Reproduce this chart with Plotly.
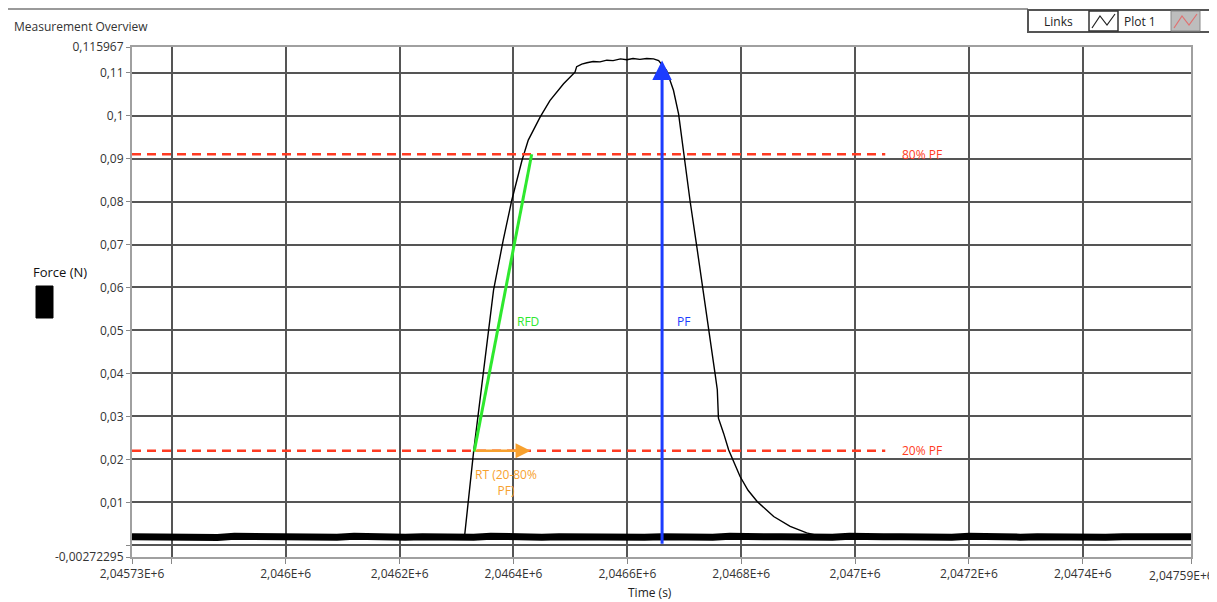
import plotly.graph_objects as go

# ---------------- data ----------------
# main force trace (time in s, force in N)
force_t = [2046300, 2046314, 2046330, 2046347, 2046365, 2046382, 2046397, 2046415,
           2046426, 2046447, 2046464, 2046488, 2046508, 2046511, 2046520, 2046529,
           2046540, 2046552, 2046564, 2046575, 2046588, 2046599, 2046610, 2046622,
           2046634, 2046646, 2046655, 2046669, 2046681, 2046690, 2046699, 2046710,
           2046722, 2046734, 2046745, 2046754, 2046758, 2046760, 2046769, 2046778,
           2046798, 2046812, 2046828, 2046857, 2046886, 2046915, 2046939]
force_v = [0.0019, 0.0020, 0.0218, 0.0400, 0.0594, 0.0710, 0.0803, 0.0896,
           0.0943, 0.0997, 0.1035, 0.1074, 0.1101, 0.1114, 0.1120, 0.1123,
           0.1126, 0.1125, 0.1129, 0.1128, 0.1132, 0.1130, 0.1133, 0.1131,
           0.1133, 0.1132, 0.1128, 0.1105, 0.1059, 0.1004, 0.0912, 0.0803,
           0.0695, 0.0586, 0.0493, 0.0400, 0.0362, 0.0296, 0.0261, 0.0222,
           0.0160, 0.0128, 0.0102, 0.0067, 0.0044, 0.0029, 0.0021]

# noisy baseline channel
base_t = [2045730, 2045760, 2045790, 2045820, 2045850, 2045880, 2045910, 2045940, 2045970, 2046000,
          2046030, 2046060, 2046090, 2046120, 2046150, 2046180, 2046210, 2046240, 2046270, 2046300,
          2046330, 2046360, 2046390, 2046420, 2046450, 2046480, 2046510, 2046540, 2046570, 2046600,
          2046630, 2046660, 2046690, 2046720, 2046750, 2046780, 2046810, 2046840, 2046870, 2046900,
          2046930, 2046960, 2046990, 2047020, 2047050, 2047080, 2047110, 2047140, 2047170, 2047200,
          2047230, 2047260, 2047290, 2047320, 2047350, 2047380, 2047410, 2047440, 2047470, 2047500,
          2047530, 2047560, 2047590]
base_v = [0.0020, 0.0019, 0.0021, 0.0019, 0.0020, 0.0018, 0.0021, 0.0020, 0.0019, 0.0020,
          0.0019, 0.0020, 0.0019, 0.0021, 0.0019, 0.0020, 0.0019, 0.0020, 0.0019, 0.0020,
          0.0019, 0.0021, 0.0019, 0.0020, 0.0019, 0.0020, 0.0019, 0.0021, 0.0019, 0.0020,
          0.0019, 0.0020, 0.0019, 0.0020, 0.0019, 0.0021, 0.0019, 0.0020, 0.0020, 0.0019,
          0.0020, 0.0019, 0.0021, 0.0019, 0.0020, 0.0020, 0.0019, 0.0020, 0.0019, 0.0021,
          0.0019, 0.0020, 0.0019, 0.0020, 0.0019, 0.0020, 0.0021, 0.0019, 0.0020, 0.0019,
          0.0020, 0.0019, 0.0020]

# markers / levels
pf_value = 0.1128
pf_time = 2046661
level_80 = 0.0910
level_20 = 0.0220
level_end_t = 2047053
rfd_t = [2046331, 2046432]
rfd_v = [0.0218, 0.0910]
rt_t = [2046331, 2046430]

x_range = [2045730, 2047590]
y_range = [-0.00272295, 0.115967]
x_tickvals = [2045730, 2045800, 2046000, 2046200, 2046400, 2046600, 2046800,
              2047000, 2047200, 2047400, 2047590]
x_ticktext = ["2,04573E+6", "", "2,046E+6", "2,0462E+6", "2,0464E+6", "2,0466E+6",
              "2,0468E+6", "2,047E+6", "2,0472E+6", "2,0474E+6", ""]
x_last_label = "2,04759E+6"
y_tickvals = [-0.00272295, 0, 0.01, 0.02, 0.03, 0.04, 0.05, 0.06, 0.07, 0.08,
              0.09, 0.1, 0.11, 0.115967]
y_ticktext = ["-0,00272295", "", "0,01", "0,02", "0,03", "0,04", "0,05", "0,06",
              "0,07", "0,08", "0,09", "0,1", "0,11", "0,115967"]

FONT = "Open Sans"
RED = "#ff3b22"
GREEN = "#2ee82e"
BLUE = "#1c3cff"
ORANGE = "#f7a12e"

OFF = 8  # page body margin
W, H = 1217 - OFF, 602 - OFF
L, R, T, B = 132 - OFF, 26, 47 - OFF, 45
PW, PH = W - L - R, H - T - B


def px(xp):
    return (xp - OFF - L) / PW


def py(yp):
    return (H - B - (yp - OFF)) / PH


fig = go.Figure()

fig.add_trace(go.Scatter(x=base_t, y=base_v, mode="lines",
                         line=dict(color="black", width=7), showlegend=False,
                         hoverinfo="skip"))
fig.add_trace(go.Scatter(x=force_t, y=force_v, mode="lines",
                         line=dict(color="black", width=1.4), showlegend=False))

# red dashed level lines
for lv in (level_80, level_20):
    fig.add_trace(go.Scatter(x=[x_range[0], level_end_t], y=[lv, lv], mode="lines",
                             line=dict(color=RED, width=2.5, dash="9px,6px"),
                             showlegend=False, hoverinfo="skip"))

# RFD green line
fig.add_trace(go.Scatter(x=rfd_t, y=rfd_v, mode="lines",
                         line=dict(color=GREEN, width=3), showlegend=False,
                         hoverinfo="skip"))

annotations = []
# PF arrow
annotations.append(dict(x=pf_time, y=pf_value, ax=pf_time, ay=0, xref="x", yref="y",
                        axref="x", ayref="y", text="", showarrow=True, arrowhead=2,
                        arrowsize=1.3, arrowwidth=3, arrowcolor=BLUE))
# RT arrow
annotations.append(dict(x=rt_t[1], y=level_20, ax=rt_t[0], ay=level_20, xref="x",
                        yref="y", axref="x", ayref="y", text="", showarrow=True,
                        arrowhead=2, arrowsize=1.2, arrowwidth=2.5, arrowcolor=ORANGE))


def txt(x, y, s, color, size=12, xref="x", yref="y", xanchor="center", yanchor="middle"):
    annotations.append(dict(x=x, y=y, xref=xref, yref=yref, text=s, showarrow=False,
                            font=dict(family=FONT, size=size, color=color),
                            xanchor=xanchor, yanchor=yanchor))


txt(2047118, level_80, "80% PF", RED)
txt(2047118, level_20, "20% PF", RED)
txt(2046425, 0.0522, "RFD", GREEN)
txt(2046698, 0.0522, "PF", BLUE)
txt(2046386, 0.0146, "RT (20-80%<br>PF)", ORANGE)

txt(px(12), py(27), "Measurement Overview", "#333333", size=12, xref="paper",
    yref="paper", xanchor="left")
txt(px(60), py(272), "Force (N)", "#111111", size=13, xref="paper", yref="paper")
txt(px(650), py(592), "Time (s)", "#222222", size=12, xref="paper", yref="paper")
txt(px(1058), py(22), "Links", "#222222", size=12, xref="paper", yref="paper")
txt(px(1140), py(22), "Plot 1", "#222222", size=12, xref="paper", yref="paper")
# last x tick label, kept inside the page edge
txt(px(1216), py(575), x_last_label, "#333333", size=12, xref="paper", yref="paper",
    xanchor="right")

shapes = []
# top separator line
shapes.append(dict(type="line", xref="paper", yref="paper", x0=px(8), x1=px(1028),
                   y0=py(9), y1=py(9), line=dict(color="#9a9a9a", width=2)))
# legend box
shapes.append(dict(type="rect", xref="paper", yref="paper", x0=px(1028), x1=px(1214),
                   y0=py(32), y1=py(10), line=dict(color="#555555", width=2),
                   fillcolor="white"))
shapes.append(dict(type="rect", xref="paper", yref="paper", x0=px(1089), x1=px(1118),
                   y0=py(31), y1=py(11), line=dict(color="#333333", width=1.5),
                   fillcolor="white"))
shapes.append(dict(type="rect", xref="paper", yref="paper", x0=px(1171), x1=px(1200),
                   y0=py(31), y1=py(11), line=dict(color="#888888", width=1),
                   fillcolor="#bdbdbd"))


def zig(x0):
    pts = [(x0 + 3, 28), (x0 + 11, 16), (x0 + 18, 25), (x0 + 26, 14)]
    return "M " + " L ".join(f"{px(a)},{py(b)}" for a, b in pts)


shapes.append(dict(type="path", xref="paper", yref="paper", path=zig(1089),
                   line=dict(color="#222222", width=1.2)))
shapes.append(dict(type="path", xref="paper", yref="paper", path=zig(1171),
                   line=dict(color="#e07070", width=1.2)))
# black block under Force label
shapes.append(dict(type="rect", xref="paper", yref="paper", x0=px(36), x1=px(53),
                   y0=py(318), y1=py(286), line=dict(color="#000000", width=1),
                   fillcolor="#000000"))

fig.update_layout(
    width=W, height=H,
    margin=dict(l=L, r=R, t=T, b=B, pad=0),
    paper_bgcolor="white", plot_bgcolor="white",
    font=dict(family=FONT, size=12, color="#333333"),
    showlegend=False,
    annotations=annotations,
    shapes=shapes,
    xaxis=dict(range=x_range, tickvals=x_tickvals, ticktext=x_ticktext,
               showgrid=True, gridcolor="#555555", gridwidth=1.5,
               zeroline=False, showline=True, linecolor="#a0a0a0", linewidth=2,
               mirror=True, ticks="outside", ticklen=5, tickcolor="#888888",
               tickfont=dict(family=FONT, size=12, color="#333333")),
    yaxis=dict(range=y_range, tickvals=y_tickvals, ticktext=y_ticktext,
               showgrid=True, gridcolor="#555555", gridwidth=1.5,
               zeroline=False, showline=True, linecolor="#a0a0a0", linewidth=2,
               mirror=True, ticks="outside", ticklen=4, tickcolor="#888888",
               tickfont=dict(family=FONT, size=12, color="#333333")),
)

fig.write_html("out.html")
